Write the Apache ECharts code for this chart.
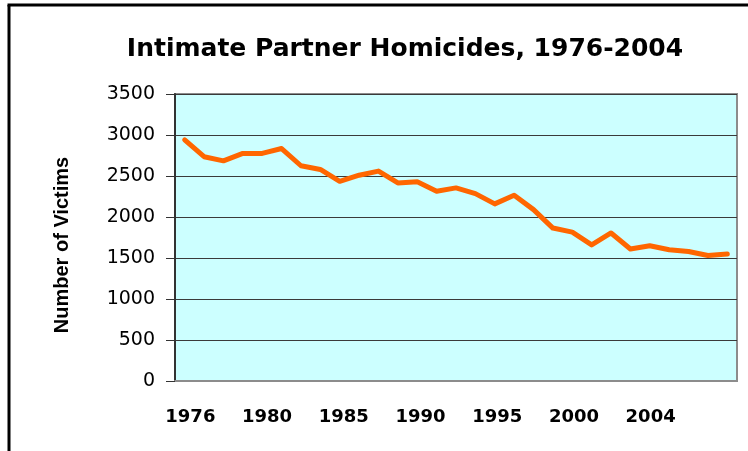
<!DOCTYPE html>
<html>
<head>
<meta charset="utf-8">
<script src="https://cdn.jsdelivr.net/npm/echarts@6/dist/echarts.min.js"></script>
<style>
html,body{margin:0;padding:0;background:#fff;}
#chart{width:748px;height:451px;}
</style>
</head>
<body>
<div id="chart"></div>
<script>
const years = ['1976','1977','1978','1979','1980','1981','1982','1983','1984','1985','1986','1987','1988','1989','1990','1991','1992','1993','1994','1995','1996','1997','1998','1999','2000','2001','2002','2003','2004'];
const victims = [2940,2735,2685,2775,2775,2835,2625,2580,2435,2510,2560,2415,2430,2315,2355,2285,2160,2265,2090,1865,1815,1660,1805,1610,1650,1600,1580,1530,1550];
const tickLabels = ['1976','1980','1985','1990','1995','2000','2004'];
const yTicks = [0,500,1000,1500,2000,2500,3000,3500];

const chart = echarts.init(document.getElementById('chart'), null, {renderer:'canvas'});
chart.setOption({
  animation: false,
  backgroundColor: '#ffffff',
  title: {
    text: 'Intimate Partner Homicides, 1976-2004',
    left: 400, top: 32, textAlign: 'center',
    textStyle: {fontFamily: 'DejaVu Sans', fontWeight: 'bold', fontSize: 25, color: '#000'}
  },
  graphic: [
    {type: 'line', shape: {x1: 9, y1: 5, x2: 9, y2: 451}, style: {stroke: '#000', lineWidth: 3}},
    {type: 'line', shape: {x1: 7.5, y1: 5, x2: 748, y2: 5}, style: {stroke: '#000', lineWidth: 3}}
  ],
  grid: [
    {left: 175, top: 94, right: 11, bottom: 70, show: true, backgroundColor: '#CCFFFF', borderColor: '#8c8c8c', borderWidth: 2, containLabel: false},
    {left: 152, width: 537, top: 94, bottom: 70, show: false}
  ],
  xAxis: [
    {type: 'category', gridIndex: 0, data: years, boundaryGap: true,
     axisLine: {show: true, lineStyle: {color: '#8c8c8c', width: 2}},
     axisTick: {show: false}, axisLabel: {show: false}, splitLine: {show: false}},
    {type: 'category', gridIndex: 1, data: tickLabels, boundaryGap: true,
     axisLine: {show: false}, axisTick: {show: false}, splitLine: {show: false},
     axisLabel: {show: true, margin: 27, interval: 0, fontFamily: 'DejaVu Sans', fontWeight: 'bold', fontSize: 18, color: '#000'}}
  ],
  yAxis: [
    {type: 'value', gridIndex: 0, min: 0, max: 3500, interval: 500,
     name: 'Number of Victims', nameLocation: 'middle', nameGap: 103, nameRotate: 90,
     nameTextStyle: {fontFamily: 'Liberation Sans', fontWeight: 'bold', fontSize: 20, color: '#000', padding: [0,15,0,0]},
     axisLine: {show: true, lineStyle: {color: '#333', width: 2}},
     axisTick: {show: true, inside: false, length: 9, lineStyle: {color: '#333', width: 1}},
     axisLabel: {margin: 20, fontFamily: 'DejaVu Sans', fontSize: 19, color: '#000',
       formatter: v => yTicks.includes(v) ? String(v) : ''},
     splitLine: {show: true, lineStyle: {color: '#3a3a3a', width: 1}}},
    {type: 'value', gridIndex: 1, show: false, min: 0, max: 1}
  ],
  series: [{
    type: 'line', xAxisIndex: 0, yAxisIndex: 0, data: victims,
    showSymbol: false, symbol: 'none',
    lineStyle: {color: '#FF6600', width: 5, join: 'round', cap: 'round'},
    itemStyle: {color: '#FF6600'}
  }]
});
</script>
</body>
</html>
